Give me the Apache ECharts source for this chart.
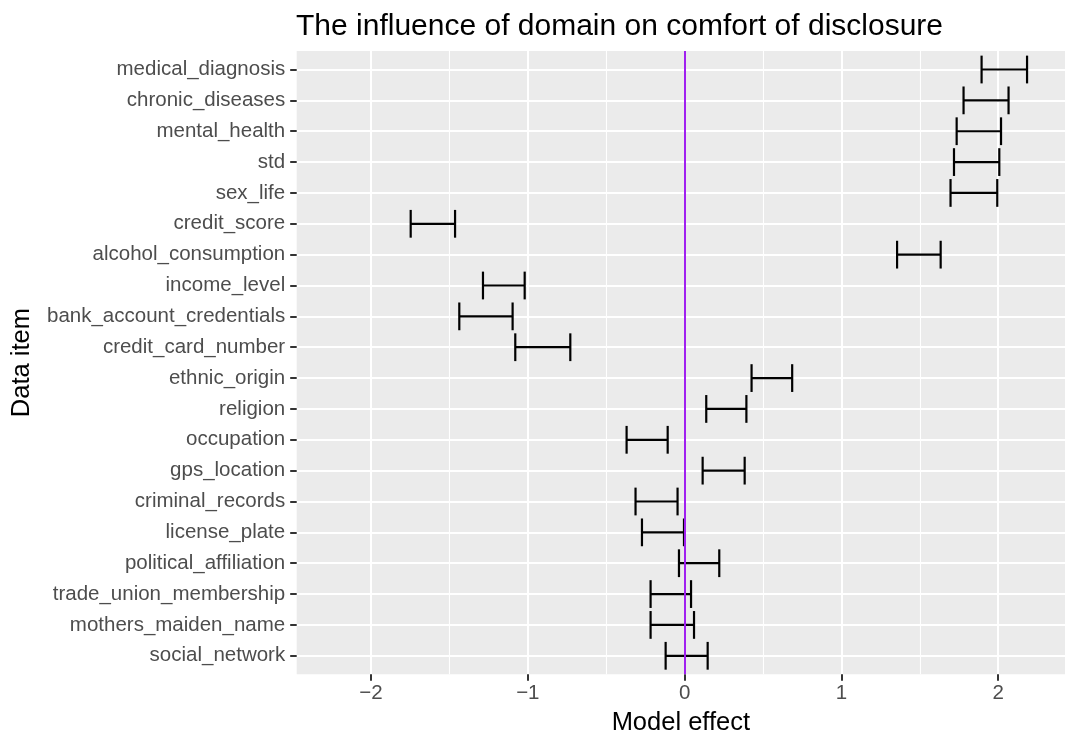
<!DOCTYPE html>
<html>
<head>
<meta charset="utf-8">
<script src="https://cdn.jsdelivr.net/npm/echarts@6/dist/echarts.min.js"></script>
<style>
  html, body { margin: 0; padding: 0; background: #fff; }
  #chart { width: 1065px; height: 736px; }
</style>
</head>
<body>
<div id="chart"></div>
<script>
// rows listed top to bottom as they appear in the plot
const categories = [
  "medical_diagnosis", "chronic_diseases", "mental_health", "std", "sex_life",
  "credit_score", "alcohol_consumption", "income_level", "bank_account_credentials",
  "credit_card_number", "ethnic_origin", "religion", "occupation", "gps_location",
  "criminal_records", "license_plate", "political_affiliation",
  "trade_union_membership", "mothers_maiden_name", "social_network"
];
const lowerValues = [
  1.894, 1.779, 1.735, 1.718, 1.696,
  -1.747, 1.355, -1.286, -1.437,
  -1.080, 0.427, 0.138, -0.370, 0.115,
  -0.313, -0.272, -0.036,
  -0.217, -0.217, -0.121
];
const upperValues = [
  2.184, 2.066, 2.018, 2.007, 1.994,
  -1.464, 1.633, -1.020, -1.097,
  -0.729, 0.686, 0.394, -0.108, 0.383,
  -0.045, -0.004, 0.221,
  0.041, 0.060, 0.147
];
const xTickValues = [-2, -1, 0, 1, 2];
const xMinorValues = [-1.5, -0.5, 0.5, 1.5];
const referenceLine = 0;

const yTickValues = categories.map((c, i) => i + 1);
const errorData = categories.map((c, i) => [i + 1, lowerValues[i], upperValues[i]]);

const chart = echarts.init(document.getElementById("chart"), null, { renderer: "canvas" });
const font = "Liberation Sans";

function renderErrorBar(params, api) {
  const y = api.value(0);
  const lo = api.coord([api.value(1), y]);
  const hi = api.coord([api.value(2), y]);
  const capA = api.coord([api.value(1), y - 0.45])[1];
  const capB = api.coord([api.value(1), y + 0.45])[1];
  const style = { stroke: "#000000", lineWidth: 2.2, fill: null };
  return {
    type: "group",
    children: [
      { type: "line", shape: { x1: lo[0], y1: lo[1], x2: hi[0], y2: hi[1] }, style: style },
      { type: "line", shape: { x1: lo[0], y1: capA, x2: lo[0], y2: capB }, style: style },
      { type: "line", shape: { x1: hi[0], y1: capA, x2: hi[0], y2: capB }, style: style }
    ]
  };
}

const option = {
  animation: false,
  textStyle: { fontFamily: font },
  title: {
    text: "The influence of domain on comfort of disclosure",
    left: 296,
    top: 12,
    padding: 0,
    textStyle: { fontFamily: font, fontSize: 30, fontWeight: "normal", color: "#000000" }
  },
  grid: {
    left: 296.7,
    right: 0,
    top: 51,
    bottom: 736 - 674.3,
    show: true,
    backgroundColor: "#EBEBEB",
    borderWidth: 0,
    containLabel: false,
    outerBoundsMode: "none"
  },
  xAxis: [
    {
      type: "value",
      min: -2.474,
      max: 2.426,
      name: "Model effect",
      nameLocation: "middle",
      nameGap: 36,
      nameTextStyle: { fontFamily: font, fontSize: 25.5, color: "#000000" },
      axisLine: { show: false, onZero: false },
      axisTick: { show: true, customValues: xTickValues, length: 6.5, lineStyle: { color: "#333333", width: 2 } },
      axisLabel: {
        customValues: xTickValues,
        margin: 9,
        fontSize: 20.5,
        color: "#4D4D4D",
        formatter: v => (v < 0 ? "\u2212" + Math.abs(v) : String(v))
      },
      splitLine: { show: true, lineStyle: { color: "#FFFFFF", width: 2 } }
    },
    {
      type: "value",
      min: -2.474,
      max: 2.426,
      position: "bottom",
      axisLine: { show: false, onZero: false },
      axisTick: { show: false, customValues: xMinorValues },
      axisLabel: { show: false, customValues: xMinorValues },
      splitLine: { show: true, lineStyle: { color: "#FFFFFF", width: 1.1 } }
    }
  ],
  yAxis: {
    type: "value",
    inverse: true,
    min: 0.4,
    max: 20.6,
    name: "Data item",
    nameLocation: "middle",
    nameGap: 262,
    nameTextStyle: { fontFamily: font, fontSize: 25.5, color: "#000000" },
    axisLine: { show: false, onZero: false },
    axisTick: { show: true, customValues: yTickValues, length: 6.5, lineStyle: { color: "#333333", width: 2 } },
    axisLabel: {
      customValues: yTickValues,
      margin: 11.5,
      fontSize: 20.5,
      color: "#4D4D4D",
      formatter: v => categories[v - 1] || ""
    },
    splitLine: { show: true, lineStyle: { color: "#FFFFFF", width: 2 } }
  },
  series: [
    {
      type: "custom",
      renderItem: renderErrorBar,
      encode: { x: [1, 2], y: 0 },
      data: errorData,
      z: 3,
      markLine: {
        silent: true,
        symbol: "none",
        label: { show: false },
        lineStyle: { color: "#A020F0", width: 2, type: "solid" },
        data: [{ xAxis: referenceLine }]
      }
    }
  ]
};

chart.setOption(option);
</script>
</body>
</html>
